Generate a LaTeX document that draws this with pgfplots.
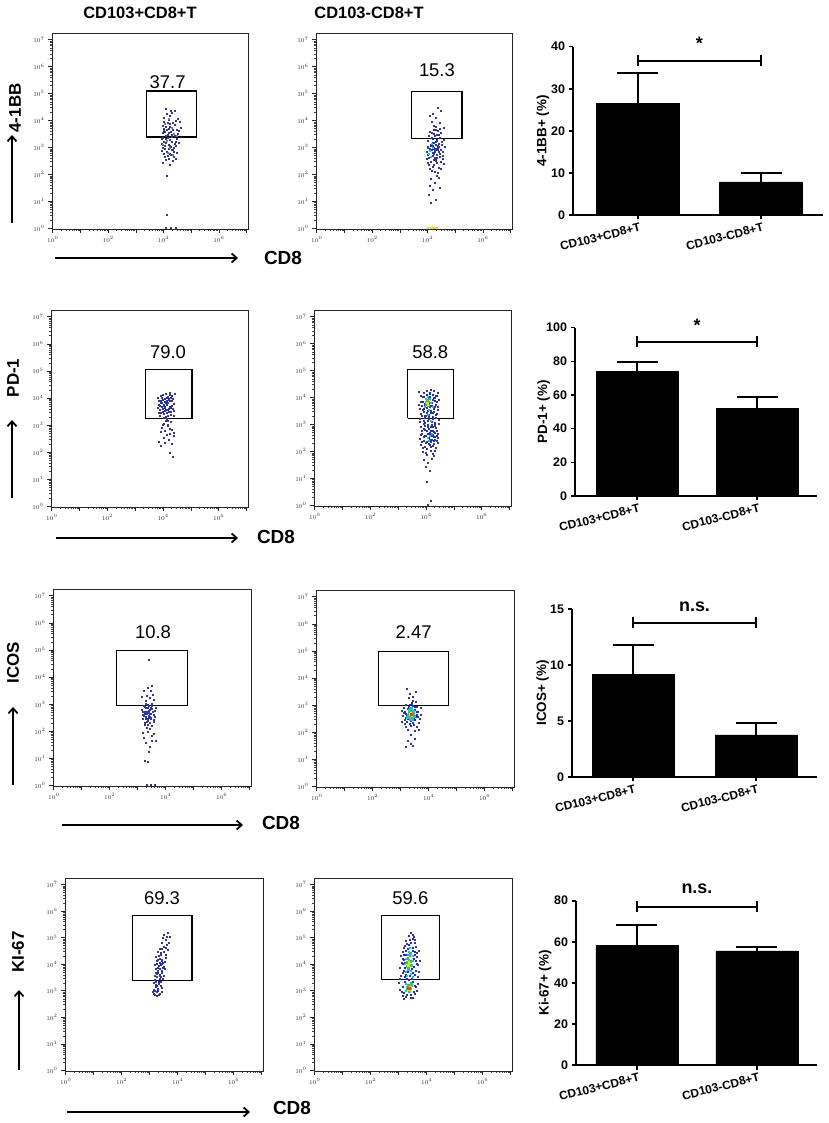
\documentclass[border=0pt]{standalone}
\usepackage{fontspec}
\setmainfont{Liberation Sans}
\usepackage{pgfplots}
\pgfplotsset{compat=1.18}
\usetikzlibrary{arrows.meta}
\definecolor{navy}{RGB}{55,55,135}
\definecolor{lnavy}{RGB}{120,120,175}
\definecolor{fblue}{RGB}{25,45,215}
\definecolor{fcyan}{RGB}{40,185,230}
\definecolor{fgreen}{RGB}{60,200,70}
\definecolor{fyellow}{RGB}{240,220,30}
\definecolor{fred}{RGB}{230,70,30}
\tikzset{gnum/.style={font=\fontsize{18.5}{20}\selectfont},
  sigtxt/.style={font=\bfseries\fontsize{18}{18}\selectfont, anchor=base}}
\pgfplotsset{
  mydot/.style={only marks, mark=square*, mark size=0.5bp, mark options={draw=none, fill=#1}, color=#1},
  mycdot/.style={only marks, mark=square*, mark size=0.85bp, mark options={draw=none, fill=#1}, color=#1},
  mygate/.style={black, line width=1.1bp, mark=none},
  myflow/.style={scale only axis,
    xmin=0.9333, xmax=1.122e7, ymin=0.955, ymax=1.778e7,
    xtick={1,10,100,1000,10000,100000,1000000,10000000},
    xticklabels={$10^{0}$,,$10^{2}$,,$10^{4}$,,$10^{6}$,},
    ytick={1,10,100,1000,10000,100000,1000000,10000000},
    yticklabels={$10^{0}$,$10^{1}$,$10^{2}$,$10^{3}$,$10^{4}$,$10^{5}$,$10^{6}$,$10^{7}$},
    minor xtick={2,3,4,5,6,7,8,9,20,30,40,50,60,70,80,90,200,300,400,500,600,700,800,900,2000,3000,4000,5000,6000,7000,8000,9000,20000,30000,40000,50000,60000,70000,80000,90000,200000,300000,400000,500000,600000,700000,800000,900000,2000000,3000000,4000000,5000000,6000000,7000000,8000000,9000000},
    minor ytick={2,3,4,5,6,7,8,9,20,30,40,50,60,70,80,90,200,300,400,500,600,700,800,900,2000,3000,4000,5000,6000,7000,8000,9000,20000,30000,40000,50000,60000,70000,80000,90000,200000,300000,400000,500000,600000,700000,800000,900000,2000000,3000000,4000000,5000000,6000000,7000000,8000000,9000000},
    tick pos=left, tick align=outside, major tick length=4bp, minor tick length=2bp,
    every tick/.style={black!85, line width=0.7bp},
    minor tick style={line width=0.5bp, black!75},
    tick label style={font=\fontsize{6.5}{7}\selectfont, text=black!80},
    axis line style={line width=0.8bp, black!85},
    clip=false, enlargelimits=false},
  mybars/.style={scale only axis, axis lines=left, axis line style={-, line width=1.6bp},
    tick align=outside, major tick length=4.5bp, every tick/.style={line width=1.6bp, black},
    xtick={0,1}, xticklabels={CD103+CD8+T,CD103-CD8+T},
    xticklabel style={font=\bfseries\fontsize{12}{14}\selectfont, rotate=14, anchor=north east, xshift=4bp},
    yticklabel style={font=\bfseries\fontsize{12.5}{14}\selectfont},
    /pgf/number format/assume math mode=true,
    ymin=0, enlargelimits=false, clip=false,
    ylabel style={font=\bfseries\fontsize{13.5}{15}\selectfont, at={(axis description cs:-0.12,0.5)}, anchor=center}},
  mybplot/.style={ybar, bar width=#1, fill=black, draw=black,
    error bars/.cd, y dir=plus, y explicit,
    error bar style={line width=1.9bp, black},
    error mark options={rotate=90, mark size=20.5bp, line width=1.9bp, black}},
  mysig/.style={black, line width=2bp, mark=|, mark size=5.5bp, mark options={line width=2bp}}
}
\pgfplotsset{/pgfplots/table/lg/.style={x expr=10^(0.9766*\thisrowno{0}+0.214), y expr=10^(1.0097*\thisrowno{1}+0.03), row sep=\\, header=false}}
\begin{document}
\begin{tikzpicture}
\path[use as bounding box] (0bp,0bp) rectangle (829bp,1123bp);

% ================= ROW 1 =================
\begin{loglogaxis}[myflow, at={(52bp,894bp)}, anchor=south west, width=196bp, height=196bp]
\addplot[mydot=navy] table[lg]{4.02 3.41\\ 3.95 3.12\\ 4.21 2.88\\ 3.88 3.65\\ 4.33 3.02\\ 4.10 2.71\\ 3.79 3.28\\ 4.45 3.55\\ 4.05 3.95\\ 3.92 2.62\\
4.18 3.33\\ 4.27 3.78\\ 3.85 2.95\\ 4.38 2.74\\ 4.00 3.18\\ 3.97 3.71\\ 4.12 4.12\\ 4.30 4.31\\ 3.90 4.05\\ 4.48 3.90\\
4.08 2.55\\ 3.83 3.48\\ 4.23 3.60\\ 4.15 2.98\\ 3.94 3.36\\ 4.36 3.25\\ 4.06 3.05\\ 3.81 2.83\\ 4.25 2.61\\ 4.41 3.44\\
3.99 2.79\\ 4.14 3.52\\ 4.03 3.85\\ 3.87 3.14\\ 4.29 3.09\\ 4.19 4.22\\ 3.96 4.38\\ 4.52 3.67\\ 4.09 3.22\\ 3.93 2.91\\
4.20 2.46\\ 3.86 2.38\\ 4.11 2.32\\ 4.01 1.90\\ 3.98 0.46\\ 4.34 3.92\\ 4.07 3.63\\ 3.89 3.56\\ 4.16 3.40\\ 4.26 2.95\\
4.04 3.30\\ 3.91 3.00\\ 4.13 2.68\\ 4.31 3.17\\ 3.84 3.75\\ 4.22 3.84\\ 4.00 4.18\\ 4.40 4.02\\ 3.95 2.50\\ 4.17 2.85\\
4.06 3.47\\ 3.80 3.10\\ 4.28 3.38\\ 4.10 3.70\\ 3.97 3.25\\ 4.24 2.78\\ 4.02 2.65\\ 4.35 3.58\\ 3.88 3.88\\ 4.14 4.28\\
4.09 3.02\\ 4.19 3.15\\ 3.93 3.53\\ 4.05 2.90\\ 4.32 2.52\\ 3.90 2.72\\ 4.12 3.80\\ 4.44 3.12\\ 4.01 3.58\\ 3.86 3.32\\
3.96 0.00\\ 4.15 0.00\\ 4.33 0.00\\};
\addplot[mydot=lnavy] table[lg]{3.98 3.20\\ 4.11 2.95\\ 4.25 3.46\\ 3.91 3.80\\ 4.03 2.76\\ 4.16 3.66\\ 3.84 3.05\\ 4.37 3.36\\ 4.07 4.00\\ 4.20 2.68\\};
\addplot[mygate] table[lg]{3.24 3.33\\ 5.10 3.33\\ 5.10 5.02\\ 3.24 5.02\\ 3.24 3.33\\};
\node[gnum] at (rel axis cs:0.59,0.75) {37.7};
\end{loglogaxis}

\begin{loglogaxis}[myflow, at={(316bp,894bp)}, anchor=south west, width=196bp, height=196bp]
\addplot[mydot=navy] table[lg]{4.21 2.85\\ 4.05 3.12\\ 4.33 2.61\\ 3.98 2.44\\ 4.40 3.05\\ 4.15 3.38\\ 3.90 2.95\\ 4.27 2.22\\ 4.10 2.70\\ 4.48 3.22\\
3.95 3.51\\ 4.36 2.88\\ 4.02 2.10\\ 4.19 3.60\\ 4.30 3.40\\ 3.86 2.78\\ 4.12 2.48\\ 4.44 2.65\\ 4.07 3.25\\ 4.24 3.02\\
3.93 2.32\\ 4.38 3.48\\ 4.16 2.90\\ 4.00 2.60\\ 4.29 2.78\\ 4.09 3.45\\ 3.88 3.18\\ 4.51 2.96\\ 4.22 2.38\\ 4.04 2.85\\
4.34 3.30\\ 3.97 2.18\\ 4.18 3.15\\ 4.42 2.52\\ 4.13 2.05\\ 3.91 3.36\\ 4.26 3.55\\ 4.06 3.00\\ 4.35 2.42\\ 4.20 2.68\\
3.84 2.55\\ 4.11 3.75\\ 4.31 3.85\\ 4.02 3.90\\ 4.46 3.68\\ 4.17 4.05\\ 3.96 4.12\\ 4.38 4.30\\ 4.25 4.40\\ 4.08 4.20\\
4.23 1.92\\ 4.01 1.78\\ 4.14 1.65\\ 3.94 1.55\\ 4.28 1.85\\ 4.05 1.40\\ 3.92 1.20\\ 4.19 1.02\\ 3.99 0.90\\ 4.33 1.48\\
4.12 2.95\\ 4.27 3.10\\ 3.89 2.68\\ 4.43 2.80\\ 4.03 3.32\\ 4.21 3.22\\ 4.36 2.15\\ 4.09 2.30\\ 3.95 2.90\\ 4.15 2.56\\
4.29 2.98\\ 4.06 2.75\\ 4.18 2.45\\ 4.40 3.15\\ 3.87 2.98\\ 4.24 2.85\\ 4.11 3.58\\ 4.32 3.65\\ 3.98 3.05\\ 4.20 3.42\\
4.07 2.25\\ 4.25 2.00\\ 3.93 2.58\\ 4.47 2.35\\ 4.16 3.72\\ 4.02 3.48\\ 4.34 2.72\\ 4.13 2.82\\ 4.21 2.58\\ 3.90 2.40\\};
\addplot[mydot=fblue] table[lg]{4.10 2.90\\ 4.18 3.05\\ 4.05 2.65\\ 4.22 3.20\\ 4.14 2.78\\ 4.00 3.00\\ 4.26 2.92\\ 4.08 3.28\\ 4.17 2.55\\ 4.12 3.12\\};
\addplot[mydot=fcyan] table[lg]{3.96 2.82\\ 4.02 3.08\\ 3.92 2.70\\ 4.06 2.95\\ 3.99 2.60\\};
\addplot[mydot=fyellow] table[lg]{3.90 0.00\\ 3.98 0.00\\ 4.06 0.00\\ 4.14 0.00\\ 4.22 0.00\\};
\addplot[mygate] table[lg]{3.27 3.29\\ 5.15 3.29\\ 5.15 4.99\\ 3.27 4.99\\ 3.27 3.29\\};
\node[gnum] at (rel axis cs:0.617,0.81) {15.3};
\end{loglogaxis}

\begin{axis}[mybars, at={(573bp,908bp)}, anchor=south west, width=250bp, height=168.3bp,
  xmin=-0.528, xmax=1.504, ymax=40, ytick={0,10,20,30,40}, ylabel={4-1BB+ (\%)}]
\addplot[mybplot=83bp] coordinates {(0,26.5) +- (0,7.2) (1,7.9) +- (0,2.0)};
\addplot[mysig] coordinates {(0,36.7) (1,36.7)};
\node[sigtxt] at (axis cs:0.5,39.3) {*};
\end{axis}

% ================= ROW 2 =================
\begin{loglogaxis}[myflow, at={(51bp,616bp)}, anchor=south west, width=197bp, height=197bp]
\addplot[mydot=navy] table[lg]{3.72 3.85\\ 3.95 3.62\\ 4.10 4.05\\ 3.80 3.40\\ 4.22 3.91\\ 3.88 3.22\\ 4.05 3.75\\ 3.66 3.58\\ 4.28 3.48\\ 3.99 3.95\\
3.78 4.02\\ 4.15 3.33\\ 3.92 3.48\\ 4.02 3.18\\ 3.70 3.70\\ 4.18 3.65\\ 3.85 3.88\\ 4.08 3.55\\ 3.96 4.10\\ 4.30 4.08\\
3.75 3.28\\ 4.12 3.82\\ 3.90 3.35\\ 4.03 3.98\\ 3.68 3.95\\ 4.25 3.30\\ 3.82 3.60\\ 4.07 3.42\\ 3.98 3.25\\ 4.20 4.00\\
3.74 3.50\\ 3.93 3.80\\ 4.14 3.58\\ 3.87 4.07\\ 4.00 3.68\\ 4.26 3.72\\ 3.79 3.75\\ 4.09 3.90\\ 3.94 3.20\\ 4.17 3.45\\
3.71 3.38\\ 3.86 3.55\\ 4.04 3.30\\ 4.21 3.85\\ 3.97 3.52\\ 3.83 3.95\\ 4.11 4.12\\ 3.76 3.65\\ 4.01 3.85\\ 4.23 3.55\\
3.91 3.00\\ 4.06 2.92\\ 3.84 2.85\\ 4.16 3.08\\ 3.95 2.75\\ 4.13 2.62\\ 3.89 2.50\\ 4.19 2.78\\ 4.03 2.95\\ 3.78 2.70\\
4.08 2.40\\ 3.93 2.30\\ 4.25 2.55\\ 3.80 2.18\\ 4.18 2.25\\ 3.70 2.35\\ 4.28 2.68\\ 4.00 2.60\\ 3.87 2.95\\ 4.10 2.82\\
4.12 1.95\\ 4.22 1.79\\ 3.98 3.10\\ 4.05 3.12\\};
\addplot[mydot=fblue] table[lg]{3.90 3.70\\ 4.00 3.80\\ 3.85 3.45\\ 4.10 3.62\\ 3.95 3.90\\ 4.05 3.52\\ 3.92 3.58\\ 3.80 3.85\\ 4.15 3.95\\ 4.02 3.40\\
3.88 3.65\\ 3.97 3.76\\ 4.07 3.88\\ 3.83 3.78\\};
\addplot[mygate] table[lg]{3.24 3.17\\ 4.94 3.17\\ 4.94 4.96\\ 3.24 4.96\\ 3.24 3.17\\};
\node[gnum] at (rel axis cs:0.594,0.788) {79.0};
\end{loglogaxis}

\begin{loglogaxis}[myflow, at={(314bp,617bp)}, anchor=south west, width=197bp, height=196bp]
\addplot[mydot=navy] table[lg]{3.62 4.15\\ 3.75 3.98\\ 3.88 4.20\\ 4.02 4.08\\ 4.15 4.18\\ 4.28 4.02\\ 4.33 3.85\\ 3.68 3.80\\ 3.81 3.65\\ 3.96 3.90\\
4.09 3.75\\ 4.22 3.68\\ 3.65 3.52\\ 3.77 3.40\\ 3.91 3.55\\ 4.05 3.45\\ 4.18 3.60\\ 4.31 3.48\\ 3.70 3.25\\ 3.84 3.18\\
3.98 3.30\\ 4.12 3.22\\ 4.25 3.35\\ 3.63 3.05\\ 3.79 2.98\\ 3.93 3.10\\ 4.07 2.92\\ 4.20 3.02\\ 4.34 3.12\\ 3.67 2.85\\
3.82 2.75\\ 3.95 2.88\\ 4.10 2.70\\ 4.24 2.82\\ 3.72 2.62\\ 3.86 2.55\\ 4.00 2.65\\ 4.14 2.50\\ 4.29 2.60\\ 3.64 2.42\\
3.78 2.35\\ 3.92 2.45\\ 4.06 2.30\\ 4.19 2.40\\ 4.32 2.28\\ 3.69 2.20\\ 3.83 2.12\\ 3.97 2.25\\ 4.11 2.15\\ 4.23 2.08\\
3.74 1.95\\ 3.89 1.85\\ 4.03 1.98\\ 4.16 1.80\\ 3.80 1.65\\ 3.94 1.55\\ 4.08 1.70\\ 3.87 1.40\\ 4.01 1.26\\ 3.88 0.86\\
4.05 0.16\\ 3.95 0.00\\
3.66 4.02\\ 3.79 4.10\\ 3.93 3.95\\ 4.06 4.22\\ 4.20 3.92\\ 4.30 4.12\\ 3.71 3.62\\ 3.85 3.78\\ 3.99 3.62\\ 4.13 3.85\\
4.26 3.78\\ 3.61 3.68\\ 3.74 3.50\\ 3.88 3.38\\ 4.02 3.58\\ 4.16 3.40\\ 4.29 3.58\\ 3.68 3.35\\ 3.82 3.28\\ 3.96 3.15\\
4.10 3.38\\ 4.23 3.20\\ 3.65 3.15\\ 3.80 3.08\\ 3.94 2.95\\ 4.08 3.05\\ 4.21 2.90\\ 4.33 2.98\\ 3.70 2.72\\ 3.84 2.90\\
3.98 2.78\\ 4.12 2.85\\ 4.26 2.70\\ 3.66 2.58\\ 3.79 2.48\\ 3.93 2.62\\ 4.07 2.52\\ 4.21 2.65\\ 4.30 2.45\\ 3.73 2.32\\
3.87 2.28\\ 4.01 2.38\\ 4.15 2.25\\ 4.27 2.35\\ 3.76 2.10\\ 3.90 2.05\\ 4.04 2.12\\ 4.18 2.00\\ 3.85 1.92\\ 4.12 1.88\\};
\addplot[mydot=fblue] table[lg]{3.78 3.95\\ 3.90 3.85\\ 4.02 3.98\\ 4.14 3.92\\ 3.84 3.70\\ 3.96 3.72\\ 4.08 3.65\\ 4.20 3.82\\ 3.80 3.52\\ 3.92 3.45\\
4.04 3.38\\ 4.16 3.52\\ 3.86 3.28\\ 3.98 3.22\\ 4.10 3.15\\ 4.22 3.30\\ 3.82 3.00\\ 3.94 2.95\\ 4.06 2.85\\ 4.18 2.95\\
3.88 2.72\\ 4.00 2.62\\ 4.12 2.58\\ 3.84 2.52\\ 3.96 2.45\\ 4.08 2.40\\ 4.20 2.50\\ 3.90 2.32\\ 4.02 2.22\\ 4.14 2.35\\
3.76 3.80\\ 3.88 4.05\\ 4.00 4.12\\ 4.12 4.05\\ 4.24 4.00\\ 3.80 2.80\\ 3.92 2.60\\ 4.04 2.70\\ 4.16 2.68\\ 4.26 2.55\\};
\addplot[mydot=fcyan] table[lg]{3.88 3.80\\ 3.95 3.62\\ 4.02 3.88\\ 3.82 3.58\\ 4.06 3.75\\ 3.92 3.95\\ 3.98 3.48\\ 3.86 3.90\\ 4.10 3.60\\ 3.94 3.30\\
4.00 2.55\\ 3.92 2.45\\ 4.08 2.60\\ 3.98 2.35\\ 4.05 3.10\\};
\addplot[mycdot=fgreen] table[lg]{3.90 3.72\\ 3.94 3.78\\ 3.86 3.68\\ 3.96 3.66\\ 3.92 3.84\\ 3.88 3.76\\};
\addplot[mycdot=fyellow] table[lg]{3.91 3.74\\ 3.93 3.70\\};
\addplot[mygate] table[lg]{3.20 3.17\\ 4.88 3.17\\ 4.88 4.97\\ 3.20 4.97\\ 3.20 3.17\\};
\node[gnum] at (rel axis cs:0.59,0.787) {58.8};
\end{loglogaxis}

\begin{axis}[mybars, at={(575bp,627bp)}, anchor=south west, width=242bp, height=168.3bp,
  xmin=-0.517, xmax=1.5, ymax=100, ytick={0,20,40,60,80,100}, ylabel={PD-1+ (\%)},
  ylabel style={at={(axis description cs:-0.13,0.5)}}]
\addplot[mybplot=81.5bp] coordinates {(0,73.9) +- (0,5.9) (1,52.1) +- (0,6.9)};
\addplot[mysig] coordinates {(0,91.7) (1,91.7)};
\node[sigtxt] at (axis cs:0.5,97.7) {*};
\end{axis}

% ================= ROW 3 =================
\begin{loglogaxis}[myflow, at={(53bp,337bp)}, anchor=south west, width=198bp, height=197bp]
\addplot[mydot=navy] table[lg]{3.10 2.85\\ 3.22 2.62\\ 3.35 2.78\\ 3.05 2.40\\ 3.28 2.25\\ 3.42 2.55\\ 3.15 2.95\\ 3.31 2.45\\ 3.48 2.70\\ 3.02 2.65\\
3.20 2.35\\ 3.38 2.88\\ 3.12 2.18\\ 3.26 2.90\\ 3.44 2.30\\ 3.08 2.52\\ 3.24 2.72\\ 3.36 2.15\\ 3.18 2.58\\ 3.52 2.82\\
3.00 2.75\\ 3.30 2.60\\ 3.14 2.42\\ 3.40 2.68\\ 3.22 2.20\\ 3.34 2.40\\ 3.06 2.88\\ 3.46 2.48\\ 3.16 2.80\\ 3.28 2.50\\
3.11 2.68\\ 3.25 2.45\\ 3.37 2.95\\ 3.19 2.30\\ 3.33 2.83\\ 3.04 2.55\\ 3.27 2.65\\ 3.43 2.38\\ 3.09 2.28\\ 3.21 2.92\\
3.13 3.05\\ 3.29 3.18\\ 3.41 3.30\\ 3.07 3.42\\ 3.23 3.55\\ 3.36 3.62\\ 3.17 3.25\\ 3.45 3.12\\ 3.01 3.20\\ 3.32 3.45\\
3.20 1.95\\ 3.35 1.80\\ 3.08 1.70\\ 3.42 1.88\\ 3.15 1.55\\ 3.28 1.40\\ 3.52 1.62\\ 3.03 1.90\\ 3.25 1.22\\ 3.38 1.60\\
3.12 0.88\\ 3.22 0.84\\ 3.24 4.58\\ 3.18 2.08\\ 3.30 2.05\\ 3.18 0.00\\ 3.33 0.00\\ 3.47 0.00\\};
\addplot[mydot=fblue] table[lg]{3.18 2.65\\ 3.26 2.52\\ 3.30 2.75\\ 3.14 2.48\\ 3.22 2.40\\ 3.34 2.58\\ 3.20 2.80\\ 3.10 2.60\\};
\addplot[mygate] table[lg]{2.09 2.89\\ 4.66 2.89\\ 4.66 4.90\\ 2.09 4.90\\ 2.09 2.89\\};
\node[gnum] at (rel axis cs:0.505,0.783) {10.8};
\end{loglogaxis}

\begin{loglogaxis}[myflow, at={(316bp,336bp)}, anchor=south west, width=198bp, height=197bp]
\addplot[mydot=navy] table[lg]{2.92 2.55\\ 3.05 2.95\\ 3.48 2.70\\ 3.55 2.45\\ 3.00 2.25\\ 3.40 3.05\\ 3.15 3.20\\ 3.30 3.25\\ 2.88 2.75\\ 3.58 2.85\\
3.10 2.05\\ 3.35 2.00\\ 3.22 1.85\\ 3.45 2.15\\ 2.98 2.40\\ 3.52 2.30\\ 3.18 3.35\\ 3.28 3.10\\ 3.12 1.65\\ 3.38 1.72\\
3.05 1.41\\ 3.30 1.45\\ 3.08 3.55\\ 3.40 3.42\\ 2.95 2.85\\ 3.60 2.60\\ 3.25 3.00\\ 3.02 2.15\\ 3.50 2.05\\ 3.20 1.55\\
2.90 2.35\\ 3.44 2.90\\ 3.14 2.90\\ 3.33 2.22\\ 2.97 2.65\\ 3.48 2.52\\};
\addplot[mydot=fblue] table[lg]{3.05 2.62\\ 3.10 2.80\\ 3.18 2.95\\ 3.30 2.92\\ 3.38 2.78\\ 3.42 2.60\\ 3.38 2.42\\ 3.30 2.30\\ 3.18 2.25\\ 3.08 2.35\\
3.02 2.50\\ 3.12 2.45\\ 3.14 2.70\\ 3.26 2.82\\ 3.34 2.65\\ 3.32 2.48\\ 3.22 2.38\\ 3.00 2.72\\ 3.44 2.70\\ 3.24 3.02\\
3.20 2.20\\ 3.36 2.88\\ 3.08 2.55\\ 3.40 2.52\\ 3.28 2.40\\};
\addplot[mycdot=fcyan] table[lg]{3.12 2.58\\ 3.16 2.75\\ 3.24 2.82\\ 3.32 2.72\\ 3.34 2.55\\ 3.28 2.42\\ 3.18 2.42\\ 3.10 2.50\\ 3.20 2.85\\ 3.30 2.62\\ 3.14 2.66\\};
\addplot[mycdot=fgreen] table[lg]{3.16 2.60\\ 3.20 2.70\\ 3.27 2.70\\ 3.29 2.58\\ 3.24 2.50\\ 3.17 2.52\\ 3.22 2.75\\ 3.26 2.64\\};
\addplot[mycdot=fyellow] table[lg]{3.20 2.62\\ 3.24 2.60\\ 3.22 2.66\\ 3.25 2.56\\};
\addplot[mycdot=fred] table[lg]{3.22 2.62\\ 3.23 2.60\\};
\addplot[mygate] table[lg]{2.04 2.92\\ 4.61 2.92\\ 4.61 4.90\\ 2.04 4.90\\ 2.04 2.92\\};
\node[gnum] at (rel axis cs:0.493,0.787) {2.47};
\end{loglogaxis}

\begin{axis}[mybars, at={(572bp,346bp)}, anchor=south west, width=245bp, height=168bp,
  xmin=-0.496, xmax=1.496, ymax=15, ytick={0,5,10,15}, ylabel={ICOS+ (\%)}]
\addplot[mybplot=82bp] coordinates {(0,9.17) +- (0,2.63) (1,3.75) +- (0,1.1)};
\addplot[mysig] coordinates {(0,13.75) (1,13.75)};
\node[sigtxt] at (axis cs:0.5,14.76) {n.s.};
\end{axis}

% ================= ROW 4 =================
\begin{loglogaxis}[myflow, at={(65bp,52bp)}, anchor=south west, width=198bp, height=193bp]
\addplot[mydot=navy] table[lg]{3.02 2.80\\ 3.15 2.95\\ 3.08 3.10\\ 3.22 2.85\\ 2.98 3.00\\ 3.18 3.20\\ 3.05 3.35\\ 3.26 3.28\\ 3.12 3.45\\ 3.30 3.05\\
3.00 3.25\\ 3.20 3.55\\ 3.08 3.62\\ 3.28 3.70\\ 3.15 3.80\\ 3.35 3.52\\ 3.05 3.90\\ 3.24 3.95\\ 3.38 3.85\\ 3.12 4.05\\
3.30 4.12\\ 3.18 4.25\\ 3.40 4.02\\ 3.08 4.20\\ 3.26 4.38\\ 3.45 4.30\\ 3.20 4.52\\ 3.36 4.60\\ 3.50 4.48\\ 3.28 4.75\\
3.44 4.85\\ 3.55 4.72\\ 3.38 5.02\\ 3.50 5.10\\ 3.58 4.95\\ 3.32 4.92\\ 3.46 4.65\\ 3.14 4.40\\ 3.42 4.18\\ 3.22 4.00\\
2.96 2.90\\ 3.10 2.75\\ 3.25 3.12\\ 3.02 3.50\\ 3.16 3.70\\ 3.32 3.40\\ 3.06 3.75\\ 3.34 3.98\\ 3.20 4.15\\ 3.10 3.95\\
3.00 2.85\\ 3.14 3.02\\ 3.28 2.92\\ 3.06 3.18\\ 3.22 3.38\\ 3.12 3.58\\ 3.30 3.62\\ 3.18 3.88\\ 3.40 3.75\\ 3.26 4.28\\
3.36 4.40\\ 3.16 4.10\\ 3.04 2.95\\ 3.24 3.48\\ 3.08 3.30\\ 3.32 3.82\\ 3.44 4.55\\ 3.30 4.50\\ 3.48 4.95\\ 3.18 2.78\\};
\addplot[mydot=fblue] table[lg]{3.15 3.60\\ 3.20 3.75\\ 3.25 3.90\\ 3.18 3.30\\ 3.28 4.05\\ 3.12 3.15\\ 3.22 3.50\\ 3.30 3.95\\ 3.10 2.90\\ 3.16 3.00\\};
\addplot[mygate] table[lg]{2.21 3.33\\ 4.40 3.33\\ 4.40 5.75\\ 2.21 5.75\\ 2.21 3.33\\};
\node[gnum] at (rel axis cs:0.49,0.896) {69.3};
\end{loglogaxis}

\begin{loglogaxis}[myflow, at={(314bp,52bp)}, anchor=south west, width=198bp, height=193bp]
\addplot[mydot=navy] table[lg]{2.88 3.00\\ 3.00 2.75\\ 3.42 2.85\\ 3.55 3.20\\ 2.92 3.50\\ 3.58 3.65\\ 2.95 4.00\\ 3.52 4.20\\ 3.00 4.40\\ 3.48 4.60\\
3.10 4.80\\ 3.40 4.95\\ 3.30 5.10\\ 3.20 4.98\\ 3.60 4.45\\ 2.90 3.80\\ 3.05 2.66\\ 3.35 2.70\\ 3.50 2.95\\ 2.86 3.25\\
3.55 3.45\\ 2.94 4.25\\ 3.45 4.85\\ 3.15 4.70\\ 3.56 3.90\\ 2.98 3.60\\ 3.38 5.02\\ 3.25 4.85\\ 3.05 4.55\\ 3.62 4.05\\
2.90 3.40\\ 3.48 3.10\\ 2.96 2.90\\ 3.28 2.68\\ 3.12 2.72\\ 3.52 4.38\\ 3.00 4.15\\ 3.44 4.72\\ 3.08 4.62\\ 3.35 4.88\\};
\addplot[mydot=fblue] table[lg]{3.00 3.10\\ 3.10 3.20\\ 3.38 3.30\\ 3.45 3.55\\ 3.02 3.70\\ 3.40 3.85\\ 3.05 4.10\\ 3.42 4.30\\ 3.10 4.45\\ 3.35 4.55\\
3.20 4.65\\ 3.28 4.72\\ 3.12 4.30\\ 3.48 4.05\\ 3.00 3.95\\ 3.06 3.45\\ 3.44 3.15\\ 3.02 2.88\\ 3.40 2.90\\ 3.15 2.78\\
3.30 2.80\\ 3.46 3.70\\ 3.08 3.30\\ 3.36 4.45\\ 3.18 4.52\\ 3.04 4.28\\ 3.50 3.95\\ 3.12 3.55\\ 3.38 3.60\\ 3.32 3.40\\
3.14 3.40\\ 3.24 3.50\\ 3.34 3.75\\ 3.18 3.65\\ 3.08 4.00\\ 3.40 4.15\\ 3.26 4.38\\ 3.22 3.35\\ 3.06 3.82\\ 3.44 4.40\\};
\addplot[mydot=fcyan] table[lg]{3.10 3.65\\ 3.20 3.80\\ 3.32 3.90\\ 3.12 4.15\\ 3.35 4.25\\ 3.22 4.40\\ 3.15 3.50\\ 3.30 3.58\\ 3.08 3.95\\ 3.38 4.08\\
3.25 4.55\\ 3.18 4.30\\ 3.28 3.70\\ 3.14 3.85\\ 3.36 3.45\\ 3.10 3.20\\ 3.34 3.15\\ 3.20 3.10\\ 3.28 3.25\\ 3.12 2.95\\};
\addplot[mycdot=fgreen] table[lg]{3.15 3.85\\ 3.22 3.95\\ 3.28 4.05\\ 3.18 4.15\\ 3.25 4.25\\ 3.20 3.75\\ 3.30 3.90\\ 3.14 4.00\\ 3.26 4.35\\ 3.22 4.10\\
3.16 3.00\\ 3.28 3.05\\ 3.20 3.15\\ 3.24 2.92\\ 3.14 3.10\\ 3.30 3.18\\};
\addplot[mycdot=fyellow] table[lg]{3.20 3.05\\ 3.24 3.00\\ 3.18 2.98\\ 3.26 3.10\\ 3.22 4.00\\ 3.20 3.90\\};
\addplot[mycdot=fred] table[lg]{3.21 3.02\\ 3.23 3.06\\ 3.19 3.04\\ 3.25 3.03\\};
\addplot[mygate] table[lg]{2.22 3.35\\ 4.35 3.35\\ 4.35 5.75\\ 2.22 5.75\\ 2.22 3.35\\};
\node[gnum] at (rel axis cs:0.487,0.896) {59.6};
\end{loglogaxis}

\begin{axis}[mybars, at={(576bp,58bp)}, anchor=south west, width=241bp, height=164.3bp,
  xmin=-0.508, xmax=1.5, ymax=80, ytick={0,20,40,60,80}, ylabel={Ki-67+ (\%)},
  ylabel style={at={(axis description cs:-0.128,0.5)}}]
\addplot[mybplot=82bp] coordinates {(0,58.1) +- (0,10.1) (1,55.6) +- (0,2.0)};
\addplot[mysig] coordinates {(0,77.1) (1,77.1)};
\node[sigtxt] at (axis cs:0.5,83.4) {n.s.};
\end{axis}

% ================= annotations =================
\tikzset{ttl/.style={font=\bfseries\fontsize{16.5}{18}\selectfont},
  rlab/.style={rotate=90, font=\bfseries\fontsize{17}{18}\selectfont},
  cd8/.style={font=\bfseries\fontsize{19}{20}\selectfont},
  arr/.style={line width=1.8bp, -{Straight Barb[length=5bp, width=9bp, line width=1.8bp]}}}
\node[ttl] at (140bp,1110bp) {CD103+CD8+T};
\node[ttl] at (369bp,1110bp) {CD103-CD8+T};

\node[rlab] at (15bp,1015bp) {4-1BB};
\draw[arr] (12bp,900bp) -- (12bp,988bp);
\draw[arr] (55bp,865bp) -- (238bp,865bp);
\node[cd8] at (283bp,865bp) {CD8};

\node[rlab] at (13bp,745bp) {PD-1};
\draw[arr] (12bp,625bp) -- (12bp,703bp);
\draw[arr] (56bp,585bp) -- (238bp,585bp);
\node[cd8] at (276bp,586bp) {CD8};

\node[rlab] at (13bp,460bp) {ICOS};
\draw[arr] (13bp,338bp) -- (13bp,416bp);
\draw[arr] (62bp,298bp) -- (243bp,298bp);
\node[cd8] at (281bp,300bp) {CD8};

\node[rlab] at (18bp,171bp) {KI-67};
\draw[arr] (19bp,53bp) -- (19bp,133bp);
\draw[arr] (67bp,11bp) -- (250bp,11bp);
\node[cd8] at (292bp,15bp) {CD8};
\end{tikzpicture}
\end{document}
